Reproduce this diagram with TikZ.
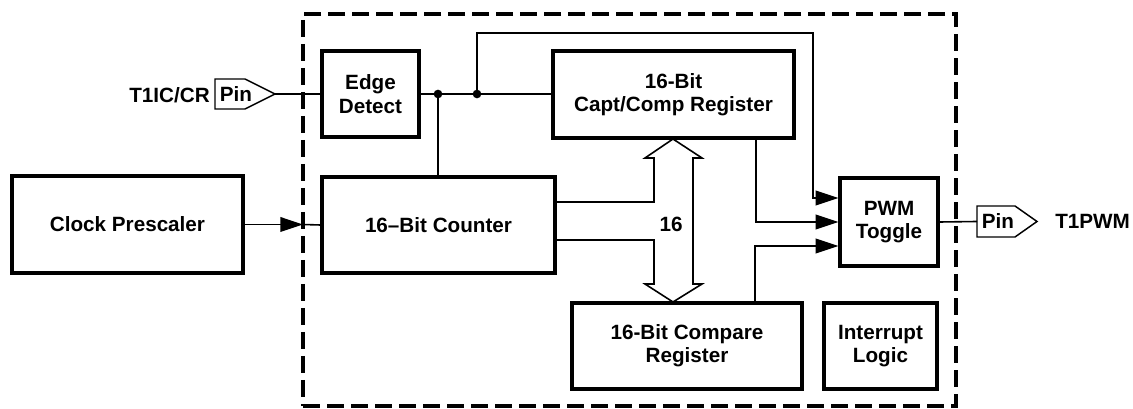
\documentclass[tikz,border=0pt]{standalone}
\usepackage{fontspec}
\setmainfont{Liberation Sans}
\usetikzlibrary{arrows.meta}
\newdimen\px
\px=0.75pt
\begin{document}
\begin{tikzpicture}[x=0.75pt,y=-0.75pt,
  txt/.style={font=\fontsize{15.5}{17.5}\selectfont\bfseries},
  blk/.style={txt,draw,line width=2.4pt,inner sep=0pt,align=center},
  wire/.style={line width=1.2pt},
  arr/.style={wire,-{Triangle[length=17pt,width=11pt]}},
  pinline/.style={line width=1.1pt,line join=miter},
  dot/.style={circle,fill,inner sep=0pt,minimum size=6.5pt},
  dashbox/.style={draw,line width=2.3pt,dash pattern=on 13pt off 5pt,inner sep=0pt}
]
\useasboundingbox (0,0) rectangle (1133,409);
% dashed unit boundary
\node[dashbox,minimum width=653\px,minimum height=392\px] (unit) at (629.5,210) {};
% blocks
\node[blk,minimum width=231\px,minimum height=97\px] (clock) at (127.5,224.5) {Clock Prescaler};
\node[blk,minimum width=97\px,minimum height=86\px] (edge) at (370.5,94) {Edge\\Detect};
\node[blk,minimum width=233\px,minimum height=96\px] (counter) at (438.5,225) {16--Bit Counter};
\node[blk,minimum width=241\px,minimum height=87\px] (capt) at (673.5,94.5) {16-Bit\\Capt/Comp Register};
\node[blk,minimum width=230\px,minimum height=86\px] (cmp) at (687,346) {16-Bit Compare\\Register};
\node[blk,minimum width=113\px,minimum height=86\px] (intr) at (880.5,346) {Interrupt\\Logic};
\node[blk,minimum width=98\px,minimum height=88\px] (pwm) at (889,222) {PWM\\Toggle};
% pins
\coordinate (pin1tip) at (275,94);
\draw[pinline] (215,79) -- (245,79) -- (pin1tip) -- (245,109) -- (215,109) -- cycle;
\node[txt,inner sep=0pt] (pin1) at (236,94) {Pin};
\coordinate (pin2in) at (977,221.5);
\draw[pinline] (pin2in |- 0,206) -- (1015,206) -- (1037,221.5) -- (1015,237) -- (pin2in |- 0,237) -- cycle;
\node[txt,inner sep=0pt] (pin2) at (998,221.5) {Pin};
\node[txt,anchor=east,inner sep=0pt] (lin) at (210,95) {T1IC/CR};
\node[txt,anchor=west,inner sep=0pt] (lout) at (1055,221.5) {T1PWM};
% junctions
\node[dot] (j1) at (438,94) {};
\node[dot] (j2) at (477,94) {};
\coordinate (cin) at (303,224.5);
\coordinate (fb) at (813,33);
% connectors
\draw[wire] (pin1tip) -- (edge.west |- pin1tip);
\draw[wire] (edge.east) -- (edge.east -| capt.west);
\draw[wire] (j1.center) -- (j1.center |- counter.north);
\draw[arr] (j2.center) |- (fb) |- ([yshift=18pt]pwm.west);
\draw[arr] (clock.east) -- (cin);
\draw[wire] (cin) -- (counter.west);
\draw[arr] (756,0 |- capt.south) |- (pwm.west);
\draw[arr] (755,0 |- cmp.north) |- ([yshift=-18pt]pwm.west);
\draw[wire] (pwm.east) -- (pin2in);
% 16-bit bus
\draw[wire,line join=miter] (counter.east |- 0,202) -- (654,202) -- (654,158) -- (645,158) -- (673,139)
  -- (702,158) -- (693,158) -- (693,284) -- (702,284) -- (673,302) -- (645,284) -- (654,284)
  -- (654,240) -- (counter.east |- 0,240);
\node[txt] (n16) at (671,224) {16};
\end{tikzpicture}
\end{document}
